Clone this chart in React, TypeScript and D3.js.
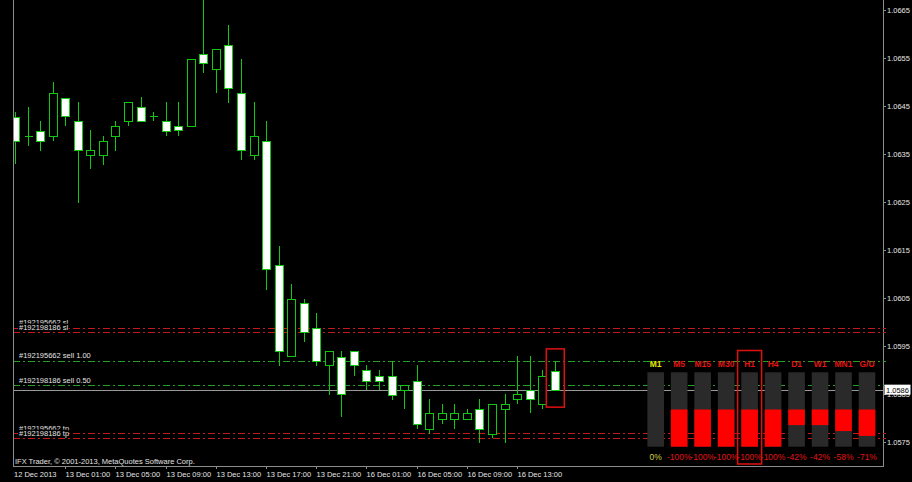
import React from "react";
import * as d3 from "d3";

// ---- data ----
const opens = [1.06427, 1.06388, 1.06398, 1.06388, 1.06467, 1.06419, 1.06348, 1.06348, 1.06388, 1.06419, 1.06448, 1.06429, 1.06419, 1.06408, 1.06408, 1.06558, 1.06527, 1.06577, 1.06477, 1.06348, 1.06377, 1.06119, 1.05929, 1.0604, 1.05988, 1.05911, 1.05927, 1.0594, 1.059, 1.05888, 1.05888, 1.05858, 1.05877, 1.05777, 1.05798, 1.05798, 1.05798, 1.05819, 1.05767, 1.05819, 1.0584, 1.05858, 1.05829, 1.05898];
const highs = [1.06438, 1.06448, 1.06419, 1.065, 1.06467, 1.06458, 1.064, 1.06388, 1.06419, 1.06458, 1.06469, 1.06438, 1.06458, 1.06458, 1.06548, 1.0669, 1.06569, 1.06619, 1.06548, 1.06458, 1.06419, 1.06158, 1.06079, 1.06048, 1.06019, 1.0594, 1.0594, 1.0594, 1.05911, 1.059, 1.05919, 1.05869, 1.05911, 1.0584, 1.05829, 1.05829, 1.05819, 1.0584, 1.05829, 1.0585, 1.05929, 1.05929, 1.059, 1.05919];
const lows = [1.06329, 1.06367, 1.06356, 1.06377, 1.06408, 1.06248, 1.06319, 1.06327, 1.06356, 1.06408, 1.06419, 1.06419, 1.06388, 1.06388, 1.06408, 1.06519, 1.06477, 1.06456, 1.06338, 1.06338, 1.06067, 1.05908, 1.05929, 1.05958, 1.05908, 1.05848, 1.05802, 1.05888, 1.05858, 1.05858, 1.05838, 1.05819, 1.05777, 1.05767, 1.05788, 1.05777, 1.05798, 1.05748, 1.05758, 1.05748, 1.05829, 1.05811, 1.05819, 1.05858];
const closes = [1.06377, 1.06388, 1.06377, 1.06477, 1.06429, 1.06358, 1.06358, 1.06377, 1.06408, 1.06458, 1.06419, 1.06429, 1.06398, 1.064, 1.06548, 1.0654, 1.06569, 1.06488, 1.06358, 1.06388, 1.06111, 1.0594, 1.06048, 1.05979, 1.05919, 1.0594, 1.0585, 1.05911, 1.05877, 1.05877, 1.05848, 1.05869, 1.05788, 1.05811, 1.05811, 1.05811, 1.05811, 1.05777, 1.05829, 1.05829, 1.0585, 1.0584, 1.05888, 1.05858];

const timeTickIdx = [0, 4, 8, 12, 16, 20, 24, 28, 32, 36, 40];
const timeTickLabels = ["12 Dec 2013", "13 Dec 01:00", "13 Dec 05:00", "13 Dec 09:00", "13 Dec 13:00", "13 Dec 17:00", "13 Dec 21:00", "16 Dec 01:00", "16 Dec 05:00", "16 Dec 09:00", "16 Dec 13:00"];
const priceTicks = [1.0665, 1.0655, 1.0645, 1.0635, 1.0625, 1.0615, 1.0605, 1.0595, 1.0585, 1.0575];
const bidPrice = 1.05858;
const bidLabel = "1.0586";

const orderLinePrices = [1.05988, 1.05979, 1.05919, 1.05868, 1.05768, 1.05758];
const orderLineKinds = ["sl", "sl", "entry", "entry", "tp", "tp"];
const orderLineLabels = ["#192195662 sl", "#192198186 sl", "#192195662 sell 1.00", "#192198186 sell 0.50", "#192195662 tp", "#192198186 tp"];

const tfLabels = ["M1", "M5", "M15", "M30", "H1", "H4", "D1", "W1", "MN1", "G/U"];
const tfValues = [0, -100, -100, -100, -100, -100, -42, -42, -58, -71];
const highlightTf = "H1";

const copyright = "IFX Trader, © 2001-2013, MetaQuotes Software Corp.";

// ---- styles ----
const W = 912, H = 482;
const L = 13, R = 883, B = 466;
const axisGray = "#8c8c8c";
const textGray = "#e4e4e4";
const candleGreen = "#10c810";
const red = "#c41a1a";
const green = "#24a024";
const font = "'Liberation Sans', Arial, sans-serif";

export default function App() {
  const x = d3.scaleLinear().domain([0, 43]).range([15, 554.8]);
  const y = d3.scaleLinear().domain([1.0575, 1.0665]).range([442, 10]);
  const tfX = d3.scalePoint<string>().domain(tfLabels).range([655.7, 867]);
  const vY = d3.scaleLinear().domain([-100, 100]).range([446.7, 372.3]);
  const colW = 16.6;

  const lastIdx = closes.length - 1;
  const yy = (p: number) => Math.round(y(p)) + 0.5;

  return (
    <svg width={W} height={H} style={{ position: "absolute", left: 0, top: 0, background: "#000" }} fontFamily={font}>
      <rect x={0} y={0} width={W} height={H} fill="#000" />
      <defs>
        <clipPath id="plot">
          <rect x={L + 1} y={0} width={R - L - 1} height={B} />
        </clipPath>
      </defs>

      {/* order lines */}
      {orderLinePrices.map((p, i) => (
        <line key={"ol" + i} x1={L} x2={R} y1={yy(p)} y2={yy(p)}
          stroke={orderLineKinds[i] === "entry" ? green : red} strokeWidth={1}
          strokeDasharray="7,3,2,3" />
      ))}
      {/* bid line */}
      <line x1={L} x2={R} y1={yy(bidPrice)} y2={yy(bidPrice)} stroke="#9a9a9a" strokeWidth={1} />

      {/* order labels */}
      {orderLinePrices.map((p, i) => {
        const baseY = y(p) - 2.5;
        const paired = i % 2 === 1;
        return (
          <g key={"lb" + i}>
            {paired && orderLineKinds[i] !== "entry" && (
              <rect x={18} y={baseY - 6} width={orderLineLabels[i].length * 3.9} height={7} fill="#000" />
            )}
            <text x={19} y={baseY} fontSize={7.5} fill={textGray}>{orderLineLabels[i]}</text>
          </g>
        );
      })}

      {/* candles */}
      <g clipPath="url(#plot)" shapeRendering="crispEdges">
        {opens.map((o, i) => {
          const c = closes[i];
          const cx = Math.round(x(i)) + 0.5;
          const top = Math.round(y(Math.max(o, c))) + 0.5;
          const bot = Math.round(y(Math.min(o, c))) + 0.5;
          const bear = c < o;
          return (
            <g key={"c" + i}>
              <line x1={cx} x2={cx} y1={y(highs[i])} y2={y(lows[i])} stroke={candleGreen} strokeWidth={1} />
              {bot - top < 1 ? (
                <line x1={cx - 4} x2={cx + 4} y1={top} y2={top} stroke={candleGreen} strokeWidth={1} />
              ) : (
                <rect x={cx - 4} y={top} width={8} height={bot - top} fill={bear ? "#ffffff" : "#000000"} stroke={candleGreen} strokeWidth={1} />
              )}
            </g>
          );
        })}
      </g>

      {/* highlight box on last candle */}
      <rect x={x(lastIdx) - 8.5} y={y(highs[lastIdx]) - 12} width={18} height={y(lows[lastIdx]) - y(highs[lastIdx]) + 29}
        fill="none" stroke="#e01010" strokeWidth={1.5} />

      {/* indicator panel */}
      {tfLabels.map((tf, i) => {
        const cx = tfX(tf) as number;
        const v = tfValues[i];
        const col = i === 0 ? "#e8e800" : "#e01414";
        return (
          <g key={"tf" + tf}>
            <rect x={cx - colW / 2} y={vY(100)} width={colW} height={vY(-100) - vY(100)} fill="#2a2a2a" />
            {v !== 0 && (
              <rect x={cx - colW / 2} y={Math.min(vY(0), vY(v))} width={colW} height={Math.abs(vY(v) - vY(0))} fill="#ff0000" />
            )}
            <text x={cx} y={367} fontSize={8.5} fontWeight="bold" textAnchor="middle" fill={col}>{tf}</text>
            <text x={cx} y={460} fontSize={8.5} textAnchor="middle" fill={i === 0 ? "#d0d040" : "#e01414"}>{v + "%"}</text>
          </g>
        );
      })}
      <rect x={(tfX(highlightTf) as number) - 12} y={350.5} width={24} height={113.5} fill="none" stroke="#e01010" strokeWidth={1.5} />

      {/* frame */}
      <g shapeRendering="crispEdges">
        <line x1={L + 0.5} x2={L + 0.5} y1={0} y2={B} stroke={axisGray} />
        <line x1={R + 0.5} x2={R + 0.5} y1={0} y2={B + 0.5} stroke={axisGray} />
        <line x1={L} x2={R + 1} y1={B + 0.5} y2={B + 0.5} stroke={axisGray} />
      </g>

      {/* price axis */}
      {priceTicks.map((p) => (
        <g key={"pt" + p}>
          <line x1={R} x2={R + 3} y1={yy(p)} y2={yy(p)} stroke={axisGray} />
          <text x={887} y={y(p) + 3} fontSize={7.5} fill={textGray}>{p.toFixed(4)}</text>
        </g>
      ))}
      {orderLinePrices.map((p, i) => (
        <line key={"pm" + i} x1={R} x2={R + 3} y1={yy(p)} y2={yy(p)} stroke={orderLineKinds[i] === "entry" ? green : red} />
      ))}
      <rect x={884.5} y={y(bidPrice) - 5.5} width={26} height={10} fill="#ffffff" />
      <text x={886} y={y(bidPrice) + 2.5} fontSize={7.5} fill="#000">{bidLabel}</text>

      {/* time axis */}
      {timeTickIdx.map((idx, i) => {
        const tx = Math.round(x(idx)) + 0.5;
        return (
          <g key={"tt" + idx}>
            {i > 0 && <line x1={tx} x2={tx} y1={B} y2={B + 3} stroke={axisGray} />}
            <text x={i === 0 ? 14 : tx} y={477} fontSize={7.5} fill={textGray}>{timeTickLabels[i]}</text>
          </g>
        );
      })}

      <text x={15} y={464} fontSize={7.5} fill={textGray}>{copyright}</text>
    </svg>
  );
}
